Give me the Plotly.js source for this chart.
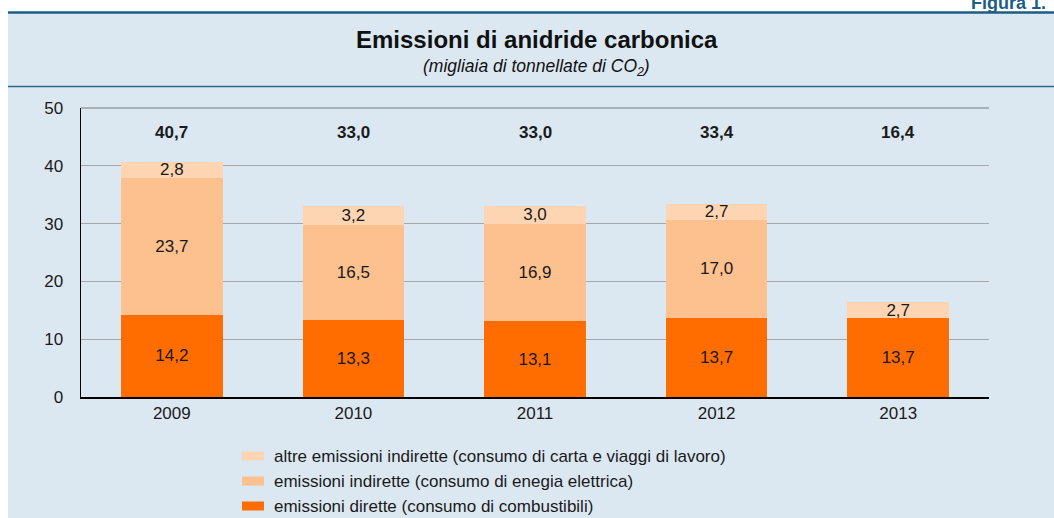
<!DOCTYPE html>
<html>
<head>
<meta charset="utf-8">
<script src="https://cdn.plot.ly/plotly-3.0.1.min.js"></script>
<style>
html,body{margin:0;padding:0;background:#ffffff;}
#chart{width:1054px;height:518px;}
</style>
</head>
<body>
<div id="chart"></div>
<script>
// ---- data ----
const years = ['2009', '2010', '2011', '2012', '2013'];
const direct = [14.2, 13.3, 13.1, 13.7, 13.7];
const indirect = [23.7, 16.5, 16.9, 17.0, null];
const otherIndirect = [2.8, 3.2, 3.0, 2.7, 2.7];
const totals = [40.7, 33.0, 33.0, 33.4, 16.4];
const seriesNames = [
  'emissioni dirette (consumo di combustibili)',
  'emissioni indirette (consumo di enegia elettrica)',
  'altre emissioni indirette (consumo di carta e viaggi di lavoro)'
];
const titleText = 'Emissioni di anidride carbonica';
const subtitleText = '<i>(migliaia di tonnellate di CO<sub>2</sub>)</i>';
const figLabel = 'Figura 1.';

// ---- layout geometry ----
const W = 1054, H = 518;
const M = {l: 81, r: 65, t: 108, b: 121};
const PW = W - M.l - M.r, PH = H - M.t - M.b;
const px = x => (x - M.l) / PW;
const py = y => (H - M.b - y) / PH;

const colors = ['#ff6d00', '#fdc08f', '#fed5b3'];
const FONT = 'Liberation Sans, Arial, Helvetica, sans-serif';
const txtColor = '#1a1a1a';

function barTrace(vals, i) {
  return {
    type: 'bar', x: years, y: vals, name: seriesNames[i],
    marker: {color: colors[i], line: {width: 0}},
    texttemplate: '%{y:.1f}', textposition: 'inside', insidetextanchor: 'middle',
    constraintext: 'none', textangle: 0,
    textfont: {family: FONT, size: 17, color: txtColor},
    hoverinfo: 'skip', showlegend: false
  };
}
const data = [barTrace(direct, 0), barTrace(indirect, 1), barTrace(otherIndirect, 2)];

const shapes = [
  // background panel
  {type: 'rect', xref: 'paper', yref: 'paper', x0: px(8), x1: px(W + 5), y0: py(H + 5), y1: py(12),
   fillcolor: '#dce8f1', line: {width: 0}, layer: 'below'},
  // top rule
  {type: 'line', xref: 'paper', yref: 'paper', x0: px(8), x1: px(W + 5), y0: py(12.5), y1: py(12.5),
   line: {color: '#1d5d85', width: 2.5}},
  // rule under title
  {type: 'line', xref: 'paper', yref: 'paper', x0: px(8), x1: px(W + 5), y0: py(86.5), y1: py(86.5),
   line: {color: '#2a6890', width: 1.5}},
  // top border of plot
  {type: 'line', xref: 'paper', yref: 'paper', x0: 0, x1: 1, y0: 1, y1: 1,
   line: {color: '#7a7a7a', width: 1}}
];

const annotations = [
  {xref: 'paper', yref: 'paper', x: px(537), y: py(40), text: '<b>' + titleText + '</b>', showarrow: false,
   xanchor: 'center', yanchor: 'middle', font: {family: FONT, size: 24, color: '#111'}},
  {xref: 'paper', yref: 'paper', x: px(536), y: py(67), text: subtitleText, showarrow: false,
   xanchor: 'center', yanchor: 'middle', font: {family: FONT, size: 17.5, color: '#111'}},
  {xref: 'paper', yref: 'paper', x: px(969), y: py(15), text: '<b>' + figLabel + '</b>', showarrow: false,
   xanchor: 'left', yanchor: 'bottom', font: {family: FONT, size: 18, color: '#1d5d85'}}
];
// totals (x given as category index)
years.forEach((yr, i) => {
  annotations.push({x: i, y: 45.7, xref: 'x', yref: 'y', text: '<b>' + totals[i].toFixed(1).replace('.', ',') + '</b>',
    showarrow: false, xanchor: 'center', yanchor: 'middle', font: {family: FONT, size: 17, color: txtColor}});
});
// manual legend
const legendRows = [456, 481, 506];
[2, 1, 0].forEach((si, r) => {
  shapes.push({type: 'rect', xref: 'paper', yref: 'paper', x0: px(242), x1: px(264),
    y0: py(legendRows[r] + 4.5), y1: py(legendRows[r] - 4.5), fillcolor: colors[si], line: {width: 0}});
  annotations.push({xref: 'paper', yref: 'paper', x: px(272), y: py(legendRows[r]), text: seriesNames[si],
    showarrow: false, xanchor: 'left', yanchor: 'middle', font: {family: FONT, size: 17, color: txtColor}});
});

const axisFont = {family: FONT, size: 17, color: txtColor};
const layout = {
  width: W, height: H,
  margin: M,
  paper_bgcolor: 'rgba(0,0,0,0)',
  plot_bgcolor: '#ffffff',
  barmode: 'stack',
  bargap: 0.44,
  separators: ',.',
  showlegend: false,
  xaxis: {
    type: 'category', range: [-0.5, years.length - 0.5], autorange: false,
    showline: true, linecolor: '#000', linewidth: 1.5,
    ticks: '', tickfont: axisFont, showgrid: false, zeroline: false, fixedrange: true
  },
  yaxis: {
    range: [0, 50], autorange: false, dtick: 10, tick0: 0, showline: true, linecolor: '#000', linewidth: 1.5,
    gridcolor: '#a8a8a8', gridwidth: 1, zeroline: false, ticks: '', ticklabelstandoff: 13,
    tickfont: axisFont, fixedrange: true
  },
  yaxis2: {
    range: [0, 50], autorange: false, dtick: 10, tick0: 0, overlaying: 'y', side: 'right', anchor: 'x',
    showline: true, linecolor: '#000', linewidth: 1.5, showgrid: false, zeroline: false,
    ticks: '', ticklabelstandoff: 11, tickfont: axisFont, fixedrange: true
  },
  shapes: shapes,
  annotations: annotations
};

Plotly.newPlot('chart', data, layout, {staticPlot: true, displayModeBar: false});
</script>
</body>
</html>
